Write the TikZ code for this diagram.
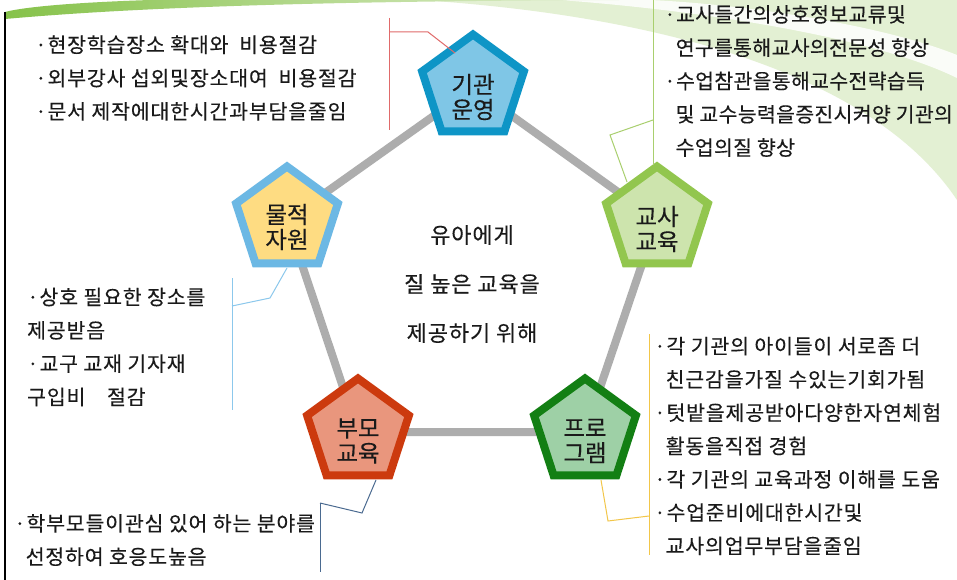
\documentclass[tikz,border=0pt]{standalone}
\usepackage{fontspec}
\setmainfont{Noto Sans CJK KR}[FakeBold=0.25]
\usetikzlibrary{shapes.geometric}
\pgfdeclarelayer{back}
\pgfdeclarelayer{bg}
\pgfsetlayers{back,bg,main}
\definecolor{txt}{HTML}{1A1A1A}
\definecolor{conngray}{HTML}{ADADAD}
\definecolor{swgreen}{HTML}{86C24A}
\definecolor{swlight}{HTML}{E2EFD2}
\definecolor{swpale}{HTML}{E3F0D3}
\definecolor{aFill}{HTML}{7FC6E6}
\definecolor{aDraw}{HTML}{0E95C6}
\definecolor{bFill}{HTML}{CDE4AD}
\definecolor{bDraw}{HTML}{92C64E}
\definecolor{eFill}{HTML}{FEDC82}
\definecolor{eDraw}{HTML}{6CB8E4}
\definecolor{dFill}{HTML}{E9967D}
\definecolor{dDraw}{HTML}{CC3A0E}
\definecolor{cFill}{HTML}{9ED0A6}
\definecolor{cDraw}{HTML}{137F14}
\definecolor{lRed}{HTML}{E06A6A}
\definecolor{lGreen}{HTML}{A9CF6E}
\definecolor{lBlue}{HTML}{8CC8EC}
\definecolor{lDark}{HTML}{4A6A90}
\definecolor{lYellow}{HTML}{F2C649}
\tikzset{
  pent/.style={regular polygon, regular polygon sides=5, minimum size=107pt,
    inner sep=0pt, line width=8pt},
  plabel/.style={text=txt, align=center, inner sep=0pt,
    font=\fontsize{23.5}{25}\selectfont},
  block/.style={text=txt, align=left, anchor=west, inner sep=0pt,
    font=\fontsize{20.5}{33.3}\selectfont\addfontfeatures{LetterSpace=4}},
  blocktight/.style={block, font=\fontsize{20.5}{33.3}\selectfont\addfontfeatures{LetterSpace=1.5}},
  ctext/.style={text=txt, align=center, inner sep=0pt,
    font=\fontsize{22}{49}\selectfont\addfontfeatures{LetterSpace=4}},
  conn/.style={conngray, line width=8pt},
  callout/.style={line width=1pt},
}
\begin{document}
\begin{tikzpicture}[x=1pt,y=-1pt]
\useasboundingbox (0,0) rectangle (957,580);
% background decoration
\begin{pgfonlayer}{back}
\fill[white] (0,0) rectangle (957,580);
\fill[swpale] (420,0) .. controls (650,15) and (870,70) .. (957,200) -- (957,0) -- cycle;
\fill[white, opacity=0.85] (560,0) .. controls (720,12) and (880,40) .. (957,78) -- (957,55) .. controls (880,24) and (740,4) .. (650,0) -- cycle;
\shade[left color=swgreen, right color=swlight] (5,19) .. controls (150,6) and (350,1) .. (620,0) -- (150,0) .. controls (60,3) and (20,8) .. (5,12) -- cycle;
\draw[black, line width=1.2pt] (5,12) -- (5,580);
\end{pgfonlayer}

% pentagons
\node[pent, fill=aFill, draw=aDraw] (gigwan) at (473,88) {};
\node[pent, fill=bFill, draw=bDraw] (gyosa) at (657,220) {};
\node[pent, fill=cFill, draw=cDraw] (program) at (585,432) {};
\node[pent, fill=dFill, draw=dDraw] (bumo) at (358,432) {};
\node[pent, fill=eFill, draw=eDraw] (muljeok) at (287,220) {};

\node[plabel] (gigwanT) at (473,97) {기관\\운영};
\node[plabel] (gyosaT) at (657,229) {교사\\교육};
\node[plabel] (programT) at (585,441) {프로\\그램};
\node[plabel] (bumoT) at (358,441) {부모\\교육};
\node[plabel] (muljeokT) at (287,227) {물적\\자원};

\begin{pgfonlayer}{bg}
\draw[conn] (gigwan.center) -- (gyosa.center) -- (program.center) -- (bumo.center) -- (muljeok.center) -- (gigwan.center);
\end{pgfonlayer}

% centre text
\node[ctext] (center) at (472,284) {유아에게\\질 높은 교육을\\제공하기 위해};

% text blocks
\node[block] (tl) at (35,78) {·현장학습장소 확대와\ \ 비용절감\\·외부강사 섭외및장소대여\ \ 비용절감\\·문서 제작에대한시간과부담을줄임};
\node[blocktight] (tr) at (664,81) {·교사들간의상호정보교류및\\\phantom{·}연구를통해교사의전문성 향상\\·수업참관을통해교수전략습득\\\phantom{·}및 교수능력을증진시켜양 기관의\\\phantom{·}수업의질 향상};
\node[block] (ml) at (27,347) {·상호 필요한 장소를\\제공받음\\·교구 교재 기자재\\구입비\ \ \ \ 절감};
\node[block] (mr) at (654,446) {·각 기관의 아이들이 서로좀 더\\\phantom{·}친근감을가질 수있는기회가됨\\·텃밭을제공받아다양한자연체험\\\phantom{·}활동을직접 경험\\·각 기관의 교육과정 이해를 도움\\·수업준비에대한시간및\\\phantom{·}교사의업무부담을줄임};
\node[block] (bl) at (14,540) {·학부모들이관심 있어 하는 분야를\\\phantom{·}선정하여 호응도높음};

% callouts
\coordinate (rTop) at (389,18);
\coordinate (rBot) at (389,130);
\coordinate (rJ) at (389,32);
\coordinate (rK) at (428,32);
\coordinate (rEnd) at (455,53);
\draw[callout, lRed] (rTop) -- (rBot);
\draw[callout, lRed] (rJ) -- (rK) -- (rEnd);

\coordinate (gTop) at (653,0);
\coordinate (gBot) at (653,165);
\coordinate (gJ) at (653,120);
\coordinate (gK) at (610,135);
\coordinate (gEnd) at (627,182);
\draw[callout, lGreen] (gTop) -- (gBot);
\draw[callout, lGreen] (gJ) -- (gK) -- (gEnd);

\coordinate (bTop) at (232,278);
\coordinate (bBot) at (232,410);
\coordinate (bJ) at (232,306);
\coordinate (bK) at (270,298);
\coordinate (bEnd) at (287,268);
\draw[callout, lBlue] (bTop) -- (bBot);
\draw[callout, lBlue] (bJ) -- (bK) -- (bEnd);

\coordinate (dTop) at (320,503);
\coordinate (dBot) at (320,572);
\coordinate (dK) at (362,513);
\coordinate (dEnd) at (376,480);
\draw[callout, lDark] (dTop) -- (dBot);
\draw[callout, lDark] (dTop) -- (dK) -- (dEnd);

\coordinate (yTop) at (649,334);
\coordinate (yBot) at (649,555);
\coordinate (yJ) at (649,516);
\coordinate (yK) at (608,521);
\coordinate (yEnd) at (601,480);
\draw[callout, lYellow] (yTop) -- (yBot);
\draw[callout, lYellow] (yJ) -- (yK) -- (yEnd);
\end{tikzpicture}
\end{document}
